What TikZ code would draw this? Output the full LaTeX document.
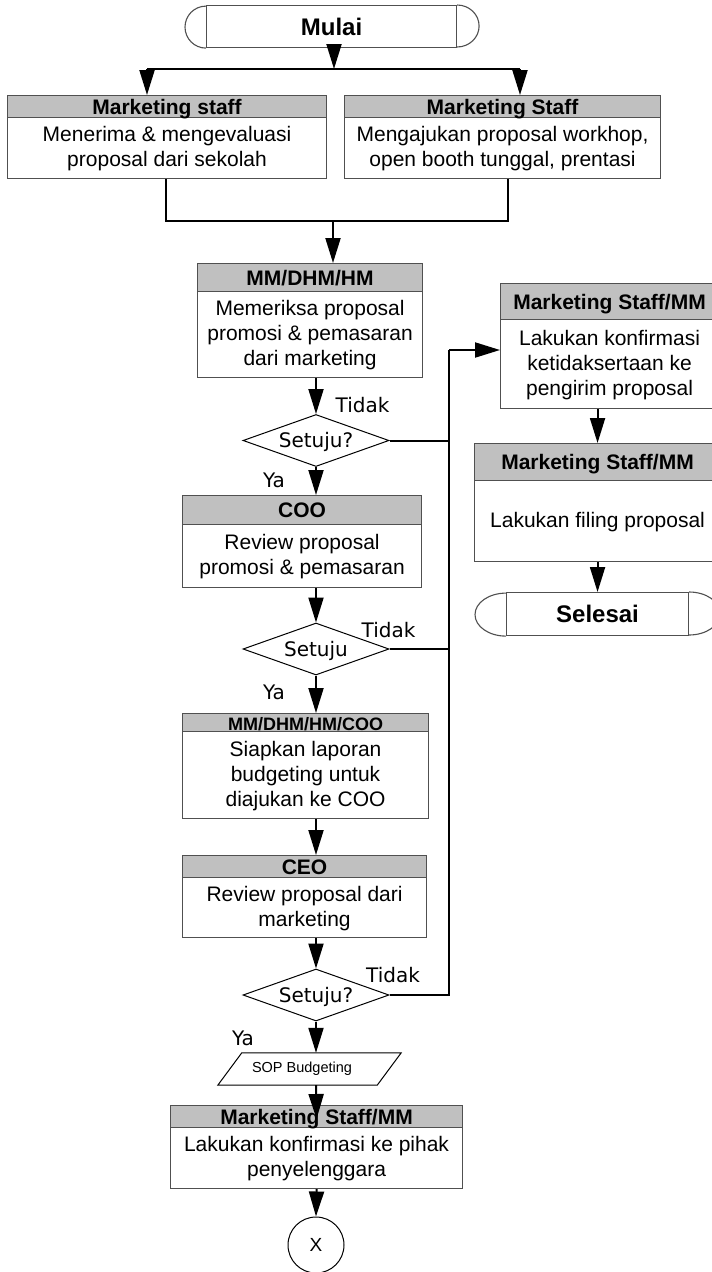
\documentclass[tikz,border=0pt]{standalone}
\usepackage{fontspec}
\setmainfont{Liberation Sans}
\newfontfamily\dejavu{DejaVu Sans}
\usetikzlibrary{shapes.geometric,arrows.meta,calc}
\definecolor{hdrgray}{HTML}{C0C0C0}
\definecolor{edgegray}{HTML}{505050}
\newcommand{\mybox}[8]{%
  \node[boxbody, minimum width=#4pt, minimum height=#5pt] (#1) at (#2,#3) {};
  \node[hdr, minimum width=#4pt, minimum height=#6pt] (#1h) at (#2,#3) {#7};
  \node[bodytext] (#1t) at ($(#1h.south)!0.5!(#1.south)$) {#8};
}
\begin{document}
\begin{tikzpicture}[x=1pt,y=-1pt,
  conn/.style={line width=2pt, black},
  arr/.style={conn, -{Triangle[length=25pt,width=15pt]}},
  boxbody/.style={draw=edgegray, line width=1.1pt, fill=white, inner sep=0pt, anchor=north west},
  hdr/.style={draw=edgegray, line width=1.1pt, fill=hdrgray, inner sep=0pt, anchor=north west,
    font=\bfseries\fontsize{21}{25}\selectfont, text height=15pt, text depth=0pt},
  bodytext/.style={align=center, inner sep=0pt, font=\fontsize{21}{25}\selectfont},
  term/.style={draw=edgegray, line width=1.1pt, inner sep=0pt, anchor=north west,
    font=\bfseries\fontsize{24}{28}\selectfont, text height=17pt, text depth=0pt},
  termline/.style={draw=edgegray, line width=1.1pt},
  dia/.style={diamond, aspect=2.8, draw=black, line width=1pt, inner sep=0pt,
    minimum width=146pt, minimum height=52pt,
    font=\dejavu\fontsize{20}{24}\selectfont, text height=14.5pt, text depth=0pt},
  lbl/.style={inner sep=0pt, font=\dejavu\fontsize{20}{24}\selectfont},
  sopshape/.style={draw=black, line width=1pt},
]
\useasboundingbox (0,0) rectangle (712,1272);
\fill[white] (0,0) rectangle (712,1272);

% terminators
\node[term, minimum width=250pt, minimum height=42pt] (mulai) at (206,5) {Mulai};
\draw[termline] (mulai.north east) arc[start angle=90,end angle=-90,x radius=22pt,y radius=21pt];
\draw[termline] (mulai.south west) arc[start angle=270,end angle=90,x radius=21pt,y radius=21pt];

\node[term, minimum width=182pt, minimum height=43pt] (selesai) at (506,592) {Selesai};
\draw[termline] (selesai.north east) arc[start angle=90,end angle=-90,x radius=31pt,y radius=21.5pt];
\draw[termline] (selesai.south west) arc[start angle=270,end angle=90,x radius=31pt,y radius=21.5pt];

% process boxes
\mybox{b1}{7}{95}{319}{83}{22}{Marketing staff}{Menerima \& mengevaluasi\\proposal dari sekolah}
\mybox{b2}{344}{95}{316}{83}{22}{Marketing Staff}{Mengajukan proposal workhop,\\open booth tunggal, prentasi}
\mybox{mm}{197}{263}{225}{114}{28}{MM/DHM/HM}{Memeriksa proposal\\promosi \& pemasaran\\dari marketing}
\mybox{coo}{182}{495}{239}{92}{29}{COO}{Review proposal\\promosi \& pemasaran}
\mybox{mmcoo}{182}{713}{246}{105}{18}{\fontsize{18}{20}\selectfont MM/DHM/HM/COO}{Siapkan laporan\\budgeting untuk\\diajukan ke COO}
\mybox{ceo}{182}{855}{244}{82}{22}{CEO}{Review proposal dari\\marketing}
\mybox{bot}{170}{1105}{292}{83}{22}{Marketing Staff/MM}{Lakukan konfirmasi ke pihak\\penyelenggara}
\mybox{rb1}{500}{283}{218}{125}{36}{Marketing Staff/MM}{Lakukan konfirmasi\\ketidaksertaan ke\\pengirim proposal}
\mybox{rb2}{474}{443}{246}{118}{37}{Marketing Staff/MM}{Lakukan filing proposal}

% decisions
\node[dia] (d1) at (316,440.5) {Setuju?};
\node[dia] (d2) at (316,649) {Setuju};
\node[dia] (d3) at (316,995) {Setuju?};

% SOP data shape
\node[minimum width=159pt, minimum height=32pt, inner sep=0pt] (sop) at (309.5,1069) {};
\draw[sopshape] ([xshift=12pt]sop.north west) -- ([xshift=12pt]sop.north east)
  -- ([xshift=-12pt]sop.south east) -- ([xshift=-12pt]sop.south west) -- cycle;
\node[inner sep=0pt, font=\fontsize{14.5}{17}\selectfont] (soptext) at (302,1069) {SOP Budgeting};

% connector X
\node[circle, draw=black, line width=1pt, minimum size=56pt, inner sep=0pt,
  font=\fontsize{19}{22}\selectfont] (xc) at (316,1245) {X};

% labels
\node[lbl] (t1) at (362.5,405.5) {Tidak};
\node[lbl] (t2) at (388.5,630.5) {Tidak};
\node[lbl] (t3) at (393,975.5) {Tidak};
\node[lbl] (y1) at (274,480) {Ya};
\node[lbl] (y2) at (274,692) {Ya};
\node[lbl] (y3) at (243,1038) {Ya};

% coordinates
\coordinate (cx) at (316,0);
\coordinate (ja) at (334,69);
\coordinate (jl) at (147,69);
\coordinate (jr) at (520,69);
\coordinate (ml) at (166,221);
\coordinate (mr) at (508,221);
\coordinate (mc) at (333,221);
\coordinate (v1) at (449,350);

% top connectors
\draw[arr] (mulai.south -| ja) -- (ja);
\draw[conn] (jl) -- (jr);
\draw[arr] (jl) -- (jl |- b1.north);
\draw[arr] (jr) -- (jr |- b2.north);
\draw[conn] (b1.south -| ml) -- (ml) -- (mr) -- (b2.south -| mr);
\draw[arr] (mc) -- (mc |- mm.north);

% left column
\draw[arr] (mm.south -| cx) -- (d1.north);
\draw[arr] (d1.south) -- (d1.south |- coo.north);
\draw[arr] (coo.south -| cx) -- (d2.north);
\draw[arr] (d2.south) -- (d2.south |- mmcoo.north);
\draw[arr] (mmcoo.south -| cx) -- (cx |- ceo.north);
\draw[arr] (ceo.south -| cx) -- (d3.north);
\draw[arr] (d3.south) -- (d3.south |- sop.north);
\draw[arr] (d3.south |- sop.south) -- ([yshift=-14pt]bot.north);
\draw[arr] (bot.south) -- (xc.north);

% Tidak branches
\draw[conn] (d1.east) -- (d1.east -| v1);
\draw[conn] (d2.east) -- (d2.east -| v1);
\draw[conn] (d3.east) -- (d3.east -| v1) -- (v1);
\draw[arr] (v1) -- (v1 -| rb1.west);

% right column
\draw[arr] (rb1.south -| rb2.north) -- (rb2.north);
\draw[arr] (rb2.south) -- (selesai.north);
\end{tikzpicture}
\end{document}
